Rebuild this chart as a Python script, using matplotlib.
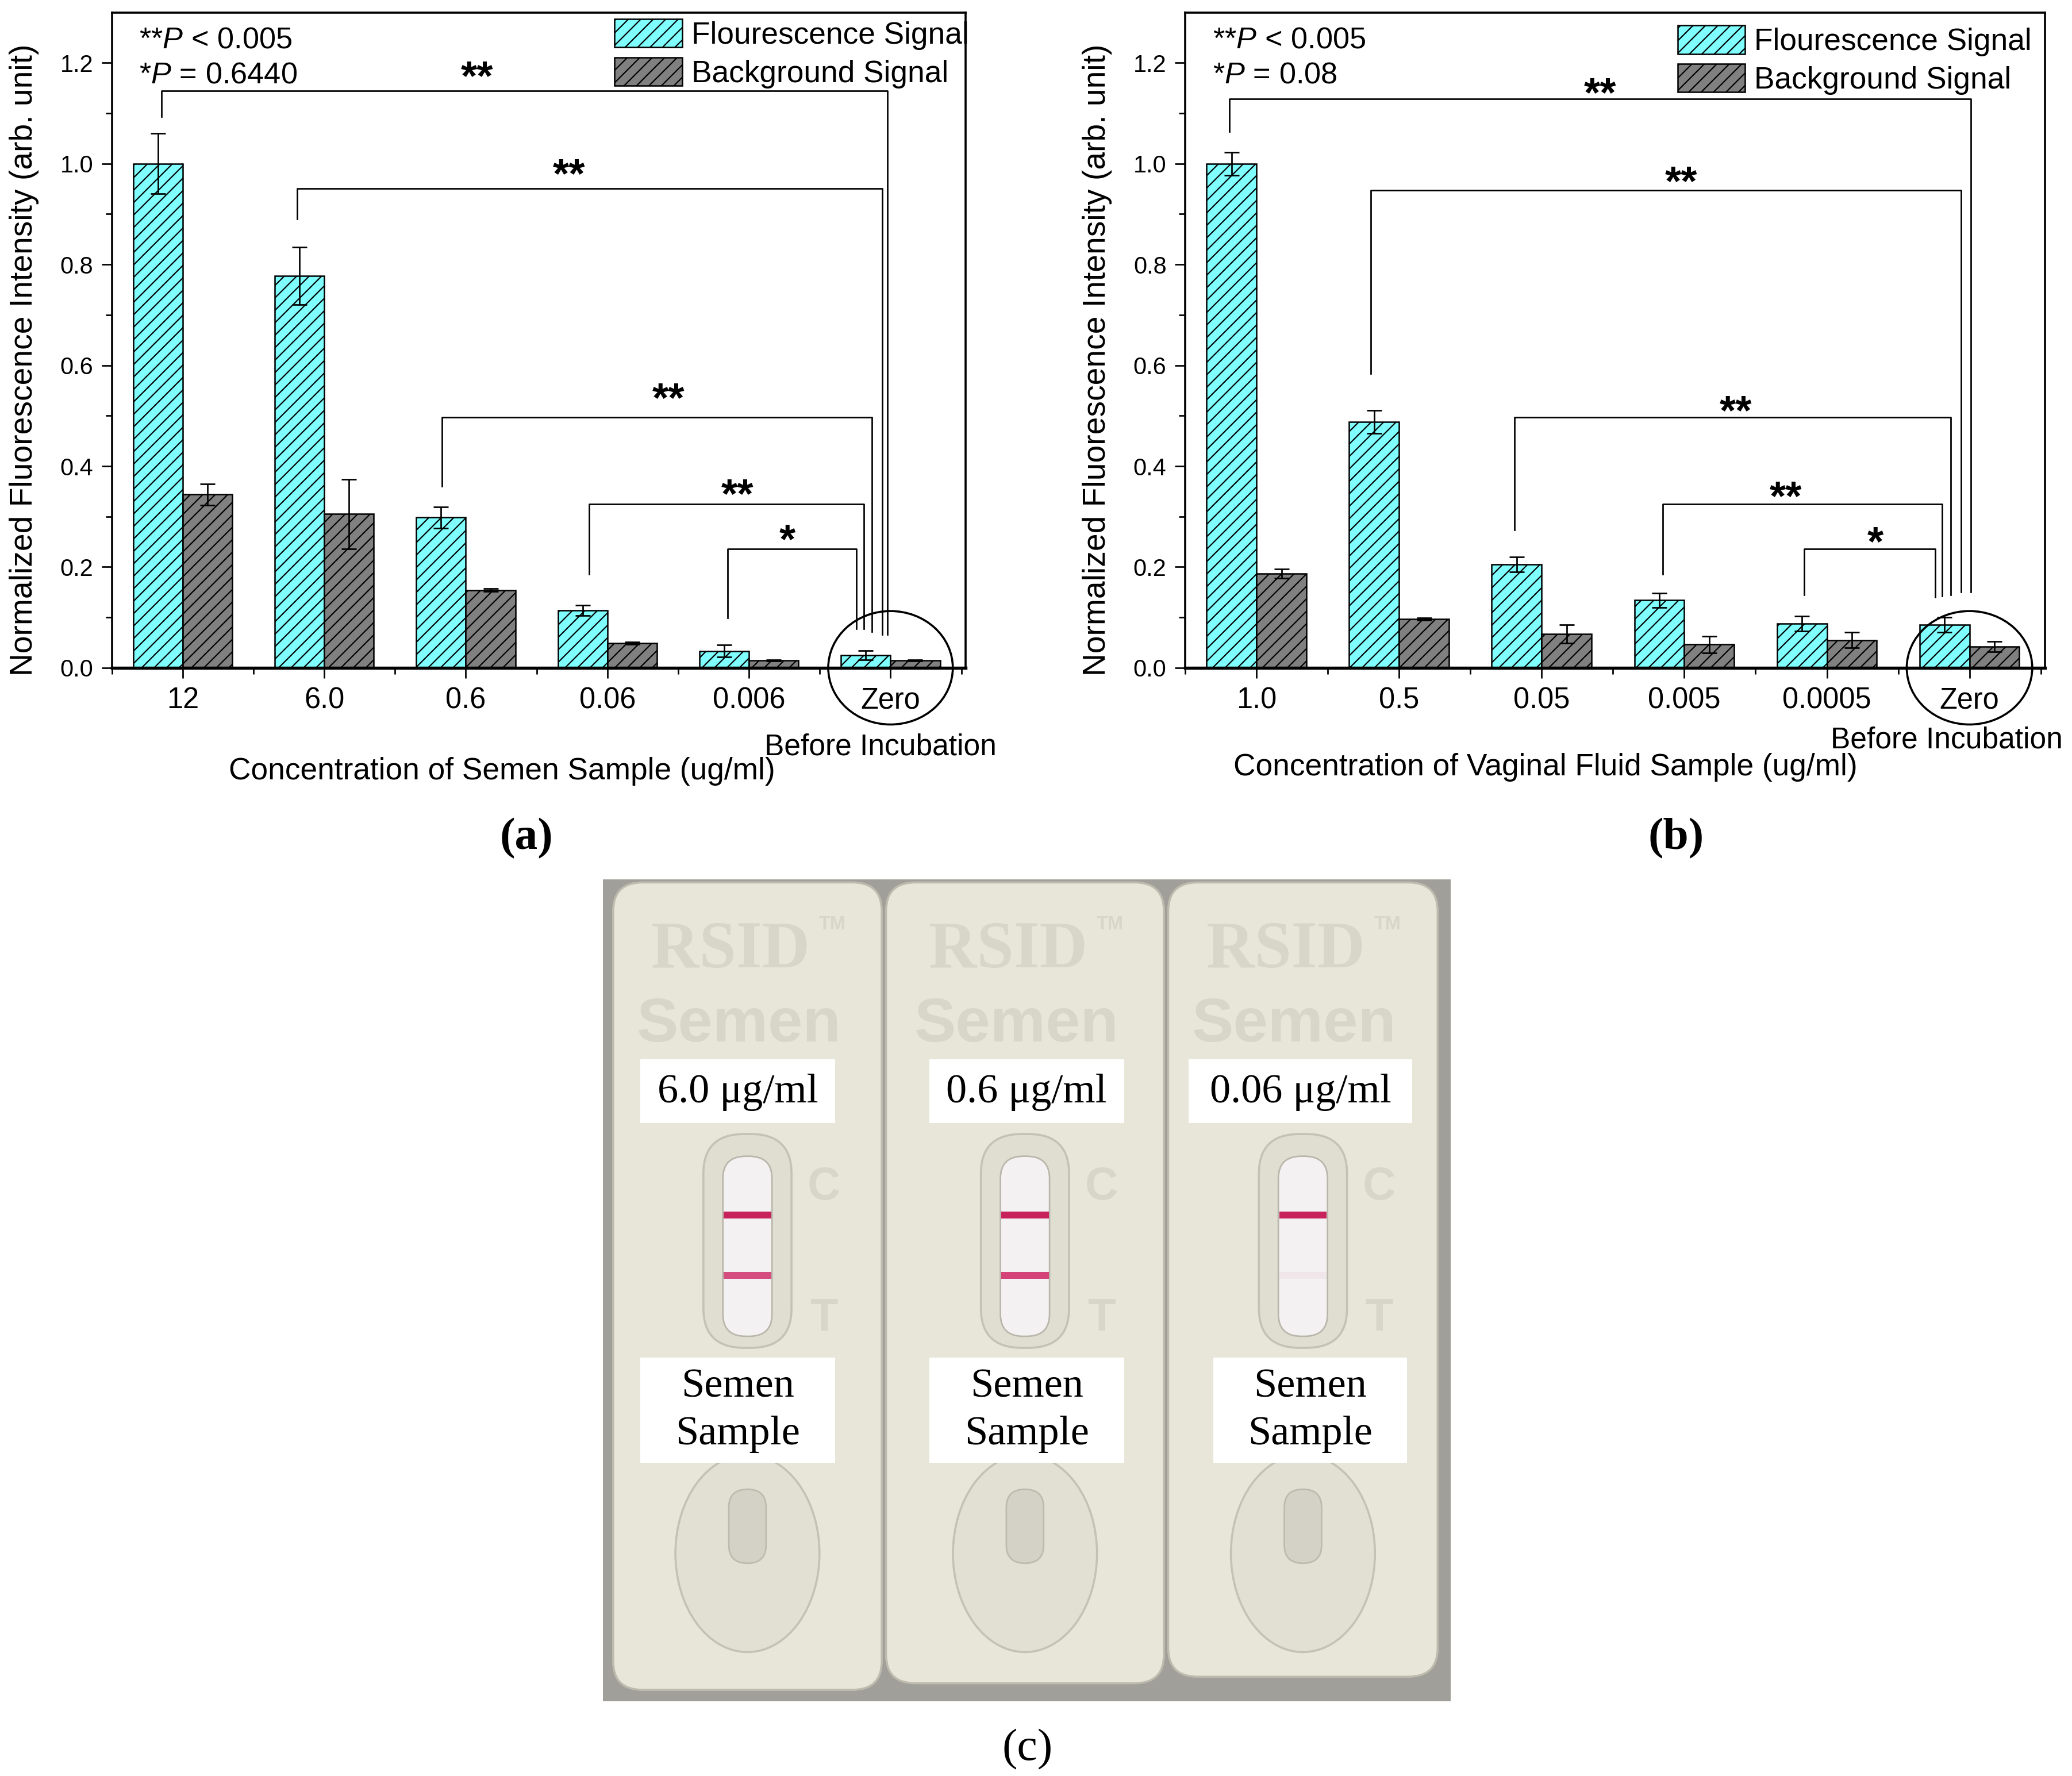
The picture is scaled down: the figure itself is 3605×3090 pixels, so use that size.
import numpy as np
import matplotlib.pyplot as plt
from matplotlib.patches import Ellipse, FancyBboxPatch, Rectangle

plt.rcParams['font.family'] = ['Liberation Sans', 'DejaVu Sans']
plt.rcParams['mathtext.fontset'] = 'custom'
plt.rcParams['mathtext.rm'] = 'Liberation Sans'
plt.rcParams['mathtext.it'] = 'Liberation Sans:italic'
plt.rcParams['hatch.linewidth'] = 1.2

# panel (a): semen
semen_labels = ['12', '6.0', '0.6', '0.06', '0.006', 'Zero']
semen_fl = [1.0, 0.777, 0.298, 0.114, 0.033, 0.025]
semen_fl_err = [0.06, 0.057, 0.021, 0.010, 0.012, 0.009]
semen_bg = [0.344, 0.305, 0.154, 0.049, 0.015, 0.015]
semen_bg_err = [0.021, 0.069, 0.003, 0.002, 0.001, 0.001]

# panel (b): vaginal fluid
vag_labels = ['1.0', '0.5', '0.05', '0.005', '0.0005', 'Zero']
vag_fl = [1.0, 0.488, 0.205, 0.134, 0.088, 0.085]
vag_fl_err = [0.023, 0.023, 0.015, 0.014, 0.015, 0.015]
vag_bg = [0.187, 0.097, 0.067, 0.046, 0.055, 0.042]
vag_bg_err = [0.009, 0.002, 0.018, 0.017, 0.015, 0.010]

# panel (c): strip tests
strip_conc = ['6.0 \u03bcg/ml', '0.6 \u03bcg/ml', '0.06 \u03bcg/ml']
strip_sample = ['Semen\nSample', 'Semen\nSample', 'Semen\nSample']
test_line_strength = [0.85, 0.9, 0.06]

cyan = '#80ffff'
grey = '#808080'


def draw_panel(ax, labels, fl, fl_err, bg, bg_err, brackets, pnote, xlabel, xlab_x, xlab_y,
               before_x, before_y, leg_anchor, ylab_x):
    x = np.arange(len(labels))
    w = 0.35
    b1 = ax.bar(x - w / 2, fl, w, color=cyan, edgecolor='black', linewidth=1.4, hatch='//',
                label='Flourescence Signal', zorder=2)
    b2 = ax.bar(x + w / 2, bg, w, color=grey, edgecolor='black', linewidth=1.4, hatch='//',
                label='Background Signal', zorder=2)
    ax.errorbar(x - w / 2, fl, yerr=fl_err, fmt='none', ecolor='black', elinewidth=1.5, capsize=7,
                capthick=1.5, zorder=3)
    ax.errorbar(x + w / 2, bg, yerr=bg_err, fmt='none', ecolor='black', elinewidth=1.5, capsize=7,
                capthick=1.5, zorder=3)

    ax.set_xlim(-0.5, 5.53)
    ax.set_ylim(0, 1.3)
    ax.set_xticks(x)
    ax.set_xticklabels(labels, fontsize=28)
    ax.set_xticks(np.arange(-0.5, 6, 1), minor=True)
    ax.set_yticks(np.arange(0, 1.21, 0.2))
    ax.set_yticklabels(['%.1f' % v for v in np.arange(0, 1.21, 0.2)], fontsize=23)
    ax.set_yticks(np.arange(0.1, 1.3, 0.2), minor=True)
    ax.tick_params(axis='both', which='major', direction='out', length=10, width=1.5, pad=8)
    ax.tick_params(axis='both', which='minor', direction='out', length=6, width=1.5)
    for s in ax.spines.values():
        s.set_linewidth(2)
    ax.spines['bottom'].set_linewidth(3)

    ax.set_ylabel('Normalized Fluorescence Intensity (arb. unit)', fontsize=30.5)
    ax.yaxis.set_label_coords(ylab_x, 0.47)
    ax.text(xlab_x, xlab_y, xlabel, transform=ax.transAxes, ha='center', va='center', fontsize=29.5)
    ax.text(before_x, before_y, 'Before Incubation', transform=ax.get_xaxis_transform(),
            ha='center', va='center', fontsize=28.5)

    # significance brackets: left x, left start y, top y, right x, right end y, star x, star y, star
    for lx, ly, ty, rx, ry, sx, sy, st in brackets:
        ax.plot([lx, lx, rx, rx], [ly, ty, ty, ry], color='black', lw=1.5, zorder=4, clip_on=False)
        ax.text(sx, sy, st, ha='center', va='center', fontsize=40, fontweight='bold')

    ax.add_patch(Ellipse((5.0, 0.0), 0.88, 0.225, fill=False, edgecolor='black', lw=2,
                         clip_on=False, zorder=5))

    ax.text(0.032, 1.245, pnote[0], fontsize=29, ha='left', va='center',
            transform=ax.get_yaxis_transform())
    ax.text(0.032, 1.175, pnote[1], fontsize=29, ha='left', va='center',
            transform=ax.get_yaxis_transform())

    ax.legend(handles=[b1, b2], loc='upper left', bbox_to_anchor=leg_anchor, frameon=False,
              fontsize=29.5, handlelength=2.2, handleheight=1.05, labelspacing=0.24,
              handletextpad=0.3, borderpad=0, borderaxespad=0)


fig = plt.figure(figsize=(3605 / 130, 3090 / 130), dpi=130)

ax_a = fig.add_axes([0.054, 0.624, 0.412, 0.369])
brackets_a = [
    (-0.15, 1.093, 1.145, 4.98, 0.066, 2.08, 1.168, '**'),
    (0.81, 0.89, 0.951, 4.94, 0.066, 2.73, 0.975, '**'),
    (1.83, 0.36, 0.497, 4.87, 0.072, 3.43, 0.53, '**'),
    (2.87, 0.186, 0.325, 4.81, 0.077, 3.92, 0.34, '**'),
    (3.85, 0.099, 0.236, 4.76, 0.077, 4.27, 0.25, '*'),
]
draw_panel(ax_a, semen_labels, semen_fl, semen_fl_err, semen_bg, semen_bg_err, brackets_a,
           ['**$\\it{P}$ < 0.005', '*$\\it{P}$ = 0.6440'],
           'Concentration of Semen Sample (ug/ml)', 0.457, -0.158, 4.93, -0.121, (0.589, 0.99),
           -0.085)

ax_b = fig.add_axes([0.572, 0.624, 0.415, 0.369])
brackets_b = [
    (-0.19, 1.064, 1.128, 5.01, 0.15, 2.41, 1.135, '**'),
    (0.80, 0.584, 0.947, 4.94, 0.15, 2.98, 0.96, '**'),
    (1.81, 0.273, 0.497, 4.87, 0.145, 3.36, 0.505, '**'),
    (2.85, 0.186, 0.325, 4.81, 0.142, 3.71, 0.335, '**'),
    (3.84, 0.145, 0.236, 4.76, 0.14, 4.34, 0.245, '*'),
]
draw_panel(ax_b, vag_labels, vag_fl, vag_fl_err, vag_bg, vag_bg_err, brackets_b,
           ['**$\\it{P}$ < 0.005', '*$\\it{P}$ = 0.08'],
           'Concentration of Vaginal Fluid Sample (ug/ml)', 0.419, -0.152, 4.84, -0.111,
           (0.573, 0.98), -0.085)

fig.text(0.254, 0.528, '(a)', fontsize=44, fontweight='bold', family='Liberation Serif',
         ha='center', va='center')
fig.text(0.809, 0.528, '(b)', fontsize=44, fontweight='bold', family='Liberation Serif',
         ha='center', va='center')
fig.text(0.496, 0.015, '(c)', fontsize=44, family='Liberation Serif', ha='center', va='center')

# panel (c): drawing of the three test cassettes
ax_c = fig.add_axes([0.291, 0.042, 0.409, 0.463])
ax_c.set_xlim(0, 1)
ax_c.set_ylim(1, 0)
ax_c.set_facecolor('#a09f99')
ax_c.set_xticks([])
ax_c.set_yticks([])
for s in ax_c.spines.values():
    s.set_visible(False)

cassette_x = [(0.012, 0.329), (0.334, 0.662), (0.667, 0.985)]
cream = '#e8e6d9'
emboss = '#d8d6c8'
for i, (x0, x1) in enumerate(cassette_x):
    cx = (x0 + x1) / 2
    ax_c.add_patch(FancyBboxPatch((x0, 0.004), x1 - x0, 0.982 - 0.008 * i,
                                  boxstyle='round,pad=0,rounding_size=0.035',
                                  facecolor=cream, edgecolor='#bdbbae', lw=2))
    ax_c.text(cx - 0.02, 0.088, 'RSID', fontsize=64, fontweight='bold',
              family='Liberation Serif', color=emboss, ha='center', va='center')
    ax_c.text(cx + 0.1, 0.055, 'TM', fontsize=18, fontweight='bold',
              family='Liberation Sans', color=emboss, ha='center', va='center')
    ax_c.text(cx - 0.01, 0.178, 'Semen', fontsize=60, fontweight='bold', family='Liberation Sans',
              color=emboss, ha='center', va='center')
    # result window
    ax_c.add_patch(FancyBboxPatch((cx - 0.052, 0.31), 0.104, 0.26,
                                  boxstyle='round,pad=0,rounding_size=0.048',
                                  facecolor='#e0ded1', edgecolor='#c4c2b5', lw=2))
    ax_c.add_patch(FancyBboxPatch((cx - 0.029, 0.337), 0.058, 0.219,
                                  boxstyle='round,pad=0,rounding_size=0.027',
                                  facecolor='#f3f1f1', edgecolor='#b9b7ab', lw=1.5))
    ax_c.add_patch(Rectangle((cx - 0.028, 0.404), 0.056, 0.009, facecolor='#c8225a', lw=0))
    ax_c.add_patch(Rectangle((cx - 0.028, 0.478), 0.056, 0.008, facecolor='#d0306a',
                             alpha=test_line_strength[i], lw=0))
    ax_c.text(cx + 0.09, 0.375, 'C', fontsize=44, fontweight='bold', color=emboss,
              ha='center', va='center')
    ax_c.text(cx + 0.09, 0.535, 'T', fontsize=44, fontweight='bold', color=emboss,
              ha='center', va='center')
    # sample well
    ax_c.add_patch(Ellipse((cx, 0.82), 0.17, 0.24, facecolor='#e2e0d3', edgecolor='#c4c2b5', lw=2))
    ax_c.add_patch(FancyBboxPatch((cx - 0.022, 0.742), 0.044, 0.09,
                                  boxstyle='round,pad=0,rounding_size=0.022',
                                  facecolor='#d4d2c6', edgecolor='#bdbbae', lw=1.5))

label_boxes_top = [(0.044, 0.274), (0.385, 0.615), (0.691, 0.955)]
label_boxes_bot = [(0.044, 0.274), (0.385, 0.615), (0.72, 0.949)]
for i in range(3):
    x0, x1 = label_boxes_top[i]
    ax_c.add_patch(Rectangle((x0, 0.219), x1 - x0, 0.078, facecolor='white', lw=0, zorder=5))
    ax_c.text((x0 + x1) / 2, 0.259, strip_conc[i], fontsize=40, family='Liberation Serif',
              ha='center', va='center', zorder=6)
    x0, x1 = label_boxes_bot[i]
    ax_c.add_patch(Rectangle((x0, 0.582), x1 - x0, 0.128, facecolor='white', lw=0, zorder=5))
    ax_c.text((x0 + x1) / 2, 0.646, strip_sample[i], fontsize=40, family='Liberation Serif',
              ha='center', va='center', linespacing=1.35, zorder=6)

fig.savefig('out.png', dpi=130)
